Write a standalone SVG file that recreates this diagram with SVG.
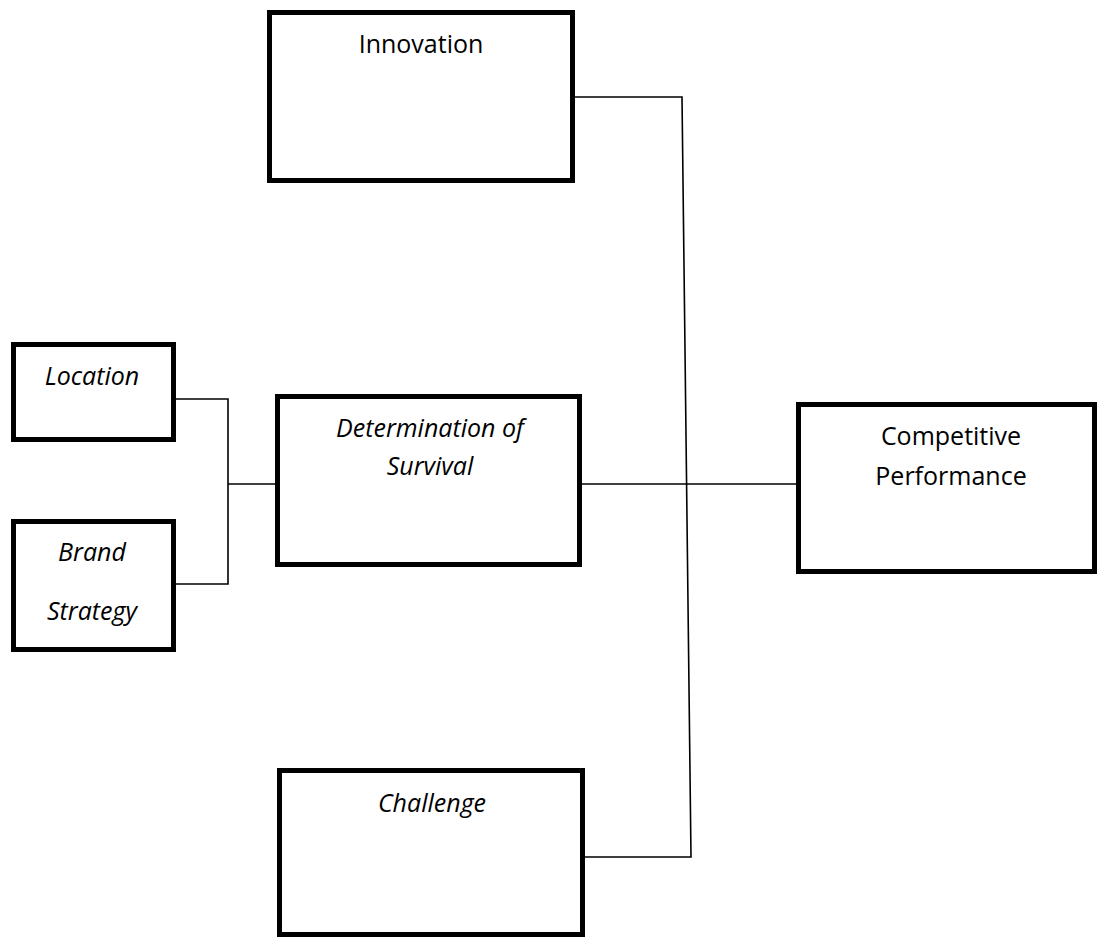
<svg xmlns="http://www.w3.org/2000/svg" width="1102" height="938" viewBox="0 0 1102 938">
<style>
.box{fill:#fff;stroke:#000;stroke-width:5}
.t{font-family:"Open Sans","Liberation Sans",sans-serif;font-size:25px;fill:#000;text-anchor:middle}
.i{font-style:italic}
.c{fill:none;stroke:#000;stroke-width:1.6}
</style>
<rect width="1102" height="938" fill="#fff"/>
<g id="connectors">
<polyline class="c" points="575,97 682,97 691,857 585,857"/>
<polyline class="c" points="176,399 228,399 228,584 176,584"/>
<line class="c" x1="228" y1="484" x2="275" y2="484"/>
<line class="c" x1="582" y1="484" x2="796" y2="484"/>
</g>
<g id="innovation">
<rect class="box" x="269.5" y="12.5" width="303" height="168"/>
<text class="t" x="421" y="53">Innovation</text>
</g>
<g id="location">
<rect class="box" x="13.5" y="344.5" width="160" height="95"/>
<text class="t i" x="92" y="385">Location</text>
</g>
<g id="brand-strategy">
<rect class="box" x="13.5" y="521.5" width="160" height="128"/>
<text class="t i" x="92" y="561">Brand</text>
<text class="t i" x="92" y="620">Strategy</text>
</g>
<g id="determination">
<rect class="box" x="277.5" y="396.5" width="302" height="168"/>
<text class="t i" x="430" y="437">Determination of</text>
<text class="t i" x="430" y="475">Survival</text>
</g>
<g id="competitive">
<rect class="box" x="798.5" y="404.5" width="296" height="167"/>
<text class="t" x="951" y="445">Competitive</text>
<text class="t" x="951" y="485">Performance</text>
</g>
<g id="challenge">
<rect class="box" x="279.5" y="770.5" width="303" height="164"/>
<text class="t i" x="432" y="812">Challenge</text>
</g>
</svg>
